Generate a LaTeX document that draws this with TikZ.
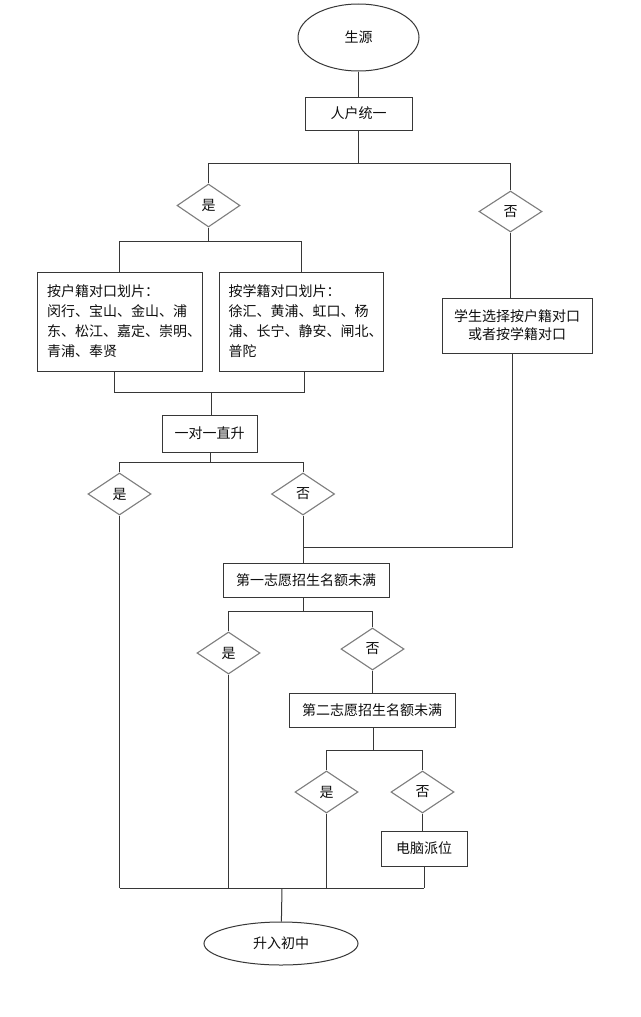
\documentclass[tikz,border=0pt]{standalone}
\usepackage{fontspec}
\setmainfont{Noto Sans CJK SC}
\usetikzlibrary{shapes.geometric}
\definecolor{lnc}{RGB}{55,55,55}
\definecolor{dmc}{RGB}{125,125,125}
\definecolor{txc}{RGB}{15,15,15}
\begin{document}
\begin{tikzpicture}[x=1pt,y=-1pt,
 every node/.style={font=\fontsize{14pt}{18pt}\selectfont, text=txc},
 conn/.style={draw=lnc, line width=1pt},
 box/.style={draw=lnc, line width=1pt, rectangle, inner sep=0pt, align=center},
 listbox/.style={box, minimum height=99pt, align=left, text width=145pt, font=\fontsize{14pt}{20pt}\selectfont},
 dia/.style={draw=dmc, line width=1.1pt, diamond, inner sep=0pt, minimum width=63pt, minimum height=42pt},
 oval/.style={draw=lnc, line width=1pt, ellipse, inner sep=0pt}]
\useasboundingbox[fill=white] (0,0) rectangle (640,1017);

% nodes
\node[oval, minimum width=121pt, minimum height=67pt] (src) at (358.5,37.5) {生源};
\node[box, minimum width=107pt, minimum height=33pt] (unify) at (358.5,113.5) {人户统一};
\node[dia, minimum height=43pt] (d1y) at (208.5,205.5) {是};
\node[dia, minimum height=41pt] (d1n) at (510.5,211.5) {否};
\node[listbox, minimum width=165pt] (hk) at (119.5,321.5) {按户籍对口划片：\\闵行、宝山、金山、浦\\东、松江、嘉定、崇明、\\青浦、奉贤};
\node[listbox, minimum width=164pt] (xj) at (301,321.5) {按学籍对口划片：\\徐汇、黄浦、虹口、杨\\浦、长宁、静安、闸北、\\普陀};
\node[box, minimum width=150pt, minimum height=55pt] (choose) at (517,325.5) {学生选择按户籍对口\\或者按学籍对口};
\node[box, minimum width=95pt, minimum height=37pt] (ydzs) at (209.5,433.5) {一对一直升};
\node[dia] (d2y) at (119.5,494) {是};
\node[dia] (d2n) at (303,494) {否};
\node[box, minimum width=166pt, minimum height=34pt] (first) at (306,580) {第一志愿招生名额未满};
\node[dia] (d3y) at (228.5,653) {是};
\node[dia] (d3n) at (372.5,649) {否};
\node[box, minimum width=166pt, minimum height=34pt] (second) at (372,710) {第二志愿招生名额未满};
\node[dia] (d4y) at (326.5,792) {是};
\node[dia] (d4n) at (422.5,792) {否};
\node[box, minimum width=86pt, minimum height=35pt] (pc) at (424,848.5) {电脑派位};
\node[oval, minimum width=154pt, minimum height=43pt] (end) at (281,943.5) {升入初中};

% junction coordinates
\coordinate (j1) at (358.5,163);
\coordinate (j1l) at (208.5,163);
\coordinate (j1r) at (510.5,163);
\coordinate (j2) at (208.5,241);
\coordinate (j2l) at (119.5,241);
\coordinate (j2r) at (301,241);
\coordinate (j3) at (211,392);
\coordinate (j3l) at (114,392);
\coordinate (j3r) at (304,392);
\coordinate (j4) at (210,462);
\coordinate (j4l) at (119.5,462);
\coordinate (j4r) at (303,462);
\coordinate (k1) at (512,547);
\coordinate (k2) at (303,547);
\coordinate (j5) at (303,611);
\coordinate (j5l) at (228.5,611);
\coordinate (j5r) at (372.5,611);
\coordinate (j6) at (373,750);
\coordinate (j6l) at (326.5,750);
\coordinate (j6r) at (422.5,750);
\coordinate (b1) at (119.5,888);
\coordinate (b2) at (228.5,888);
\coordinate (b3) at (326.5,888);
\coordinate (b4) at (424,888);
\coordinate (b5) at (282,888);

% connectors
\draw[conn] (src) -- (unify);
\draw[conn] (unify) -- (j1);
\draw[conn] (j1l) -- (j1r);
\draw[conn] (j1l) -- (d1y);
\draw[conn] (j1r) -- (d1n);

\draw[conn] (d1y) -- (j2);
\draw[conn] (j2l) -- (j2r);
\draw[conn] (j2l) -- (hk);
\draw[conn] (j2r) -- (xj);

\draw[conn] (j3l |- hk.south) -- (j3l) -- (j3r) -- (j3r |- xj.south);
\draw[conn] (j3) -- (j3 |- ydzs.north);

\draw[conn] (j4 |- ydzs.south) -- (j4);
\draw[conn] (j4l) -- (j4r);
\draw[conn] (j4l) -- (d2y);
\draw[conn] (j4r) -- (d2n);

\draw[conn] (d1n) -- (d1n.south |- choose.north);
\draw[conn] (k1 |- choose.south) -- (k1) -- (k2);

\draw[conn] (d2n) -- (d2n.south |- first.north);
\draw[conn] (d2y) -- (b1);

\draw[conn] (j5 |- first.south) -- (j5);
\draw[conn] (j5l) -- (j5r);
\draw[conn] (j5l) -- (d3y);
\draw[conn] (j5r) -- (d3n);
\draw[conn] (d3y) -- (b2);
\draw[conn] (d3n) -- (d3n.south |- second.north);

\draw[conn] (j6 |- second.south) -- (j6);
\draw[conn] (j6l) -- (j6r);
\draw[conn] (j6l) -- (d4y);
\draw[conn] (j6r) -- (d4n);
\draw[conn] (d4y) -- (b3);
\draw[conn] (d4n) -- (d4n.south |- pc.north);
\draw[conn] (pc) -- (b4);

\draw[conn] (b1) -- (b4);
\draw[conn] (b5) -- (end);
\end{tikzpicture}
\end{document}
